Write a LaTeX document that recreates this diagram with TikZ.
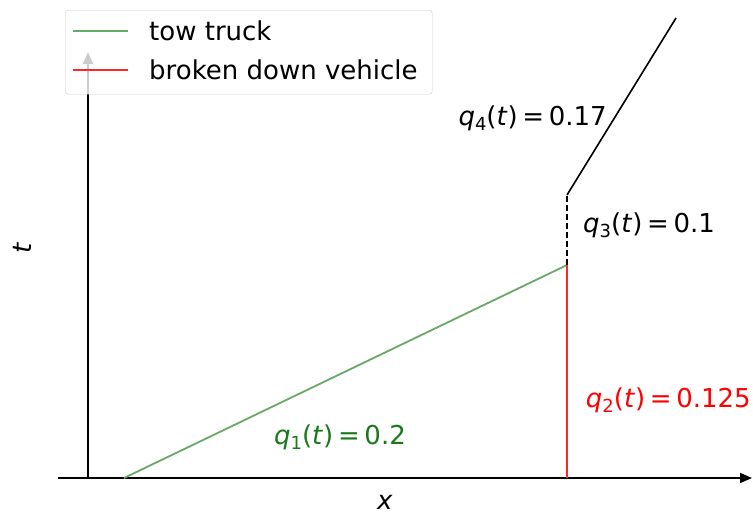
\documentclass[tikz,border=0pt]{standalone}
\usepackage{fontspec}
\setmainfont{DejaVu Sans}
\usepackage{tikz}
\usetikzlibrary{arrows.meta,positioning}

\definecolor{truckgreen}{RGB}{102,170,102}
\definecolor{labelgreen}{RGB}{25,120,25}
\definecolor{vehred}{RGB}{255,40,40}

% flux label: q_n(t) = value
\newcommand{\flux}[2]{\textit{q}\raisebox{-0.35ex}{\fontsize{18}{20}\selectfont #1}(\textit{t})\hspace{0.18em}=\hspace{0.18em}#2}

\begin{document}
\begin{tikzpicture}[
  x=1pt, y=-1pt,
  axis/.style={line width=1.6pt, -{Triangle[length=12pt,width=10pt]}},
  lbl/.style={inner sep=0pt, font=\fontsize{26}{31}\selectfont},
  truck/.style={line width=1.8pt, truckgreen},
  broken/.style={line width=1.8pt, vehred}
]
\useasboundingbox (0,0) rectangle (753,515);

% axes
\coordinate (xs) at (58,478);
\coordinate (xe) at (752,478);
\coordinate (ts) at (88,478);
\coordinate (te) at (88,52);
\draw[axis] (xs) -- (xe);
\draw[axis, line width=2.2pt] (ts) -- (te);
\node[lbl, rotate=90] (tlab) at (22,248) {\textit{t}};
\node[lbl] (xlab) at (385,502) {\textit{x}};

% trajectories
\coordinate (g0) at (124,478);
\coordinate (meet) at (567,265);
\coordinate (r0) at (567,478);
\coordinate (dep) at (567,195);
\coordinate (top) at (676,18);
\draw[truck] (g0) -- (meet);
\draw[broken] (r0) -- (meet);
\draw[line width=1.5pt, dashed, dash pattern=on 6pt off 3pt] (meet) -- (dep);
\draw[line width=1.6pt] (dep) -- (top);

% flux labels
\node[lbl, text=labelgreen] (q1) at (340,437) {\flux{1}{0.2}};
\node[lbl, text=red, anchor=east] (q2) at (751,400) {\flux{2}{0.125}};
\node[lbl, anchor=west] (q3) at (583,225) {\flux{3}{0.1}};
\node[lbl, anchor=east] (q4) at (607,118) {\flux{4}{0.17}};

% legend
\node[draw=black!20, fill=white, fill opacity=0.8, rounded corners=3pt,
      minimum width=367pt, minimum height=84pt, anchor=north west] (leg) at (65,10) {};
\draw[truck] (73,31) coordinate (l1a) -- (128,31) coordinate (l1b);
\draw[broken] (73,70) coordinate (l2a) -- (128,70) coordinate (l2b);
\node[lbl, anchor=west] (leg1) at (149,31) {tow truck};
\node[lbl, anchor=west] (leg2) at (149,70) {broken down vehicle};
\end{tikzpicture}
\end{document}
